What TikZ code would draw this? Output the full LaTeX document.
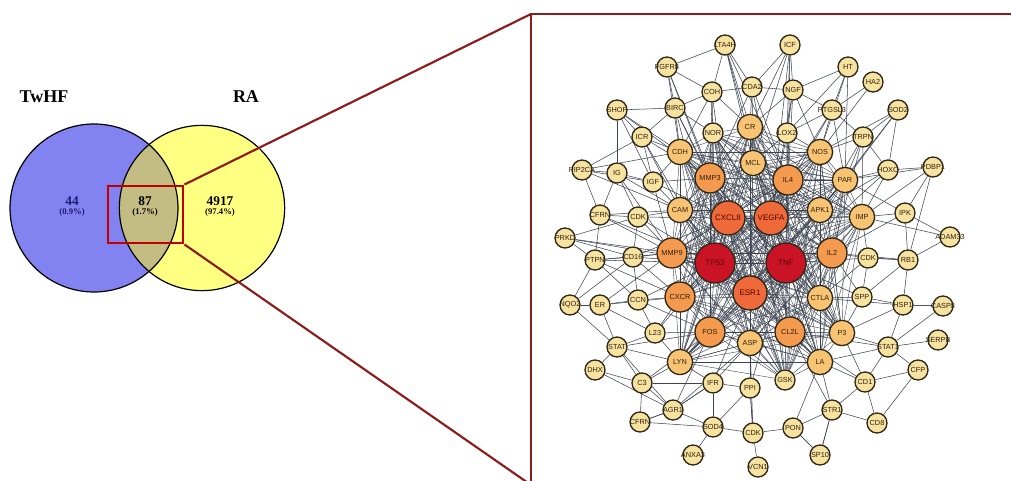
\documentclass[tikz,border=0pt]{standalone}
\usepackage{fontspec}
\setmainfont{Liberation Serif}
\newfontfamily\labfont{Liberation Sans}
\pgfdeclarelayer{bglayer}
\pgfdeclarelayer{edgelayer}
\pgfsetlayers{bglayer,edgelayer,main}
\definecolor{setblue}{HTML}{8282F0}
\definecolor{setyellow}{HTML}{FFFF82}
\definecolor{lenscol}{HTML}{C3BD83}
\definecolor{navy}{HTML}{1C1C70}
\definecolor{boxred}{HTML}{C00000}
\definecolor{linkred}{HTML}{8E1A1A}
\definecolor{csmall}{HTML}{F8E2A0}
\definecolor{cmed}{HTML}{F8C474}
\definecolor{corange}{HTML}{F49A4E}
\definecolor{cored}{HTML}{EE6A3A}
\definecolor{cred}{HTML}{CA1426}
\definecolor{nodeborder}{HTML}{2E2818}
\definecolor{edgecol}{HTML}{3C4350}
\definecolor{labcol}{HTML}{2E2210}
\tikzset{
  gnode/.style={circle, draw=nodeborder, line width=1pt, inner sep=0pt},
  sm/.style={gnode, fill=csmall, minimum size=15pt},
  md/.style={gnode, fill=cmed, minimum size=19pt},
  og/.style={gnode, fill=corange, minimum size=22.5pt},
  orr/.style={gnode, fill=cored, minimum size=25.5pt},
  rd/.style={gnode, fill=cred, minimum size=30pt},
  labstyle/.style={font=\labfont\fontsize{5.5}{5.5}\selectfont, text=labcol, inner sep=0pt},
  biglab/.style={font=\labfont\fontsize{6}{6}\selectfont, inner sep=0pt},
  edge/.style={draw=edgecol, line width=0.4pt},
  vennnum/.style={font=\bfseries\fontsize{10}{10}\selectfont},
  vennpct/.style={font=\bfseries\fontsize{6.5}{7}\selectfont},
}
\newcommand\gn[5]{\node[#1, label={[labstyle]center:#5}] (#2) at (#3,#4) {};}
\begin{document}
\begin{tikzpicture}[x=0.75pt,y=-0.75pt]
\useasboundingbox (0,0) rectangle (1011,481);
\clip (0,0) rectangle (1011,481);
\begin{pgfonlayer}{bglayer}
\fill[white] (0,0) rectangle (1011,481);
\end{pgfonlayer}

% ---------- Venn diagram ----------
\fill[setblue] (94,208) circle[radius=63pt];
\fill[setyellow] (202,208) circle[radius=62pt];
\begin{scope}
  \clip (94,208) circle[radius=63pt];
  \fill[lenscol] (202,208) circle[radius=62pt];
\end{scope}
\draw[black, line width=0.9pt] (94,208) circle[radius=63pt];
\draw[black, line width=0.9pt] (202,208) circle[radius=62pt];

\node[font=\bfseries\fontsize{13.5}{14}\selectfont] (twhf) at (44,97) {TwHF};
\node[font=\bfseries\fontsize{13.5}{14}\selectfont] (ra) at (246,97) {RA};
\node[vennnum, text=navy] (n44) at (72,201) {44};
\node[vennpct, text=navy] (p44) at (72,212) {(0.9\%)};
\node[vennnum] (n87) at (145,201) {87};
\node[vennpct] (p87) at (145,212) {(1.7\%)};
\node[vennnum] (n4917) at (220,201) {4917};
\node[vennpct] (p4917) at (220,212) {(97.4\%)};

% zoom box and links
\node[draw=boxred, line width=2.2pt, minimum width=56.25pt, minimum height=42.75pt, inner sep=0pt] (zoombox) at (145.5,214.5) {};
\coordinate (bigtl) at (531,14);
\coordinate (bigbl) at (531,485);
\coordinate (bigtr) at (1015,14);
\draw[linkred, line width=1.6pt] (zoombox.north east) -- (bigtl);
\draw[linkred, line width=1.6pt] (zoombox.south east) -- (bigbl);
\draw[linkred, line width=2pt] (bigbl) -- (bigtl) -- (bigtr);

% ---------- network nodes ----------
\gn{sm}{lta}{725}{45}{LTA4H}
\gn{sm}{icf}{790}{45}{ICF}
\gn{sm}{fgf}{667}{67}{FGFR8}
\gn{sm}{ht}{848}{67}{HT}
\gn{sm}{ha2}{873}{82}{HA2}
\gn{sm}{coh}{712}{92}{COH}
\gn{sm}{cda}{752}{87}{CDA2}
\gn{sm}{ngf}{793}{90}{NGF}
\gn{sm}{shp}{617}{110}{SHOP}
\gn{sm}{bir}{675}{108}{BIRC}
\gn{sm}{ptg}{832}{110}{PTGSL3}
\gn{sm}{sod}{898}{110}{SOD2}
\gn{sm}{icr}{642}{137}{ICR}
\gn{sm}{nor}{713}{133}{NOR}
\gn{sm}{lox}{787}{133}{LOX2}
\gn{sm}{trp}{863}{137}{TRPN}
\gn{sm}{hox}{888}{170}{HOXO}
\gn{sm}{pdb}{933}{167}{PDBP1}
\gn{sm}{pip}{582}{170}{PIP2CA}
\gn{sm}{ig}{617}{173}{IG}
\gn{sm}{igf}{653}{182}{IGF}
\gn{sm}{cfr}{600}{215}{CFRN}
\gn{sm}{cdka}{638}{217}{CDK}
\gn{sm}{ipk}{905}{213}{IPK}
\gn{sm}{adm}{950}{237}{ADAM33}
\gn{sm}{prk}{565}{238}{PRKD}
\gn{sm}{ptp}{595}{260}{PTPN}
\gn{sm}{cdsx}{633}{257}{CD16}
\gn{sm}{cdkb}{868}{258}{CDK}
\gn{sm}{rb}{908}{260}{RB1}
\gn{sm}{nqo}{570}{305}{NQO2}
\gn{sm}{er}{600}{305}{ER}
\gn{sm}{ccn}{638}{300}{CCN}
\gn{sm}{spp}{862}{297}{SPP}
\gn{sm}{hsp}{903}{305}{HSP1}
\gn{sm}{cspe}{943}{306}{CASP8}
\gn{sm}{ilt}{655}{333}{L23}
\gn{sm}{stat}{617}{347}{STAT}
\gn{sm}{dhx}{595}{370}{DHX}
\gn{sm}{sto}{888}{347}{STAT1}
\gn{sm}{ser}{938}{340}{SERPB}
\gn{sm}{cfp}{918}{370}{CFP}
\gn{sm}{cthree}{642}{383}{C3}
\gn{sm}{ifr}{713}{383}{IFR}
\gn{sm}{ppi}{750}{388}{PPI}
\gn{sm}{cdo}{865}{382}{CD1}
\gn{sm}{agr}{673}{410}{AGR1}
\gn{sm}{cfrb}{640}{422}{CFRN}
\gn{sm}{sodf}{713}{427}{SOD4}
\gn{sm}{cdkc}{753}{433}{CDK}
\gn{sm}{pon}{793}{428}{PON}
\gn{sm}{str}{832}{410}{STR1}
\gn{sm}{cde}{877}{423}{CD8}
\gn{sm}{anx}{693}{455}{ANXA3}
\gn{sm}{vcn}{758}{467}{VCN1}
\gn{sm}{spt}{820}{455}{SP10}
\gn{sm}{gsk}{785}{380}{GSK}

\gn{md}{cr}{750}{127}{CR}
\gn{md}{cdh}{680}{152}{CDH}
\gn{md}{nos}{820}{152}{NOS}
\gn{md}{mcl}{753}{163}{MCL}
\gn{md}{par}{845}{180}{PAR}
\gn{md}{cam}{680}{210}{CAM}
\gn{md}{apk}{820}{210}{APK1}
\gn{md}{imp}{862}{217}{IMP}
\gn{md}{ctla}{820}{298}{CTLA}
\gn{md}{lyn}{680}{362}{LYN}
\gn{md}{casp}{750}{343}{ASP}
\gn{md}{pthree}{842}{333}{P3}
\gn{md}{ela}{820}{362}{LA}

\gn{og}{mmpt}{710}{178}{MMP3}
\gn{og}{ilf}{788}{180}{IL4}
\gn{og}{mmpn}{672}{253}{MMP9}
\gn{og}{ilb}{832}{253}{IL2}
\gn{og}{cxcr}{680}{297}{CXCR}
\gn{og}{fos}{710}{332}{FOS}
\gn{og}{ccl}{790}{332}{CL2L}

\node[orr, label={[biglab, text=red!35!black]center:CXCL8}] (cxcl) at (728,218) {};
\node[orr, label={[biglab, text=red!35!black]center:VEGFA}] (vegf) at (771,218) {};
\node[orr, label={[biglab, text=red!35!black]center:ESR1}] (esr) at (750,293) {};
\node[rd, label={[biglab, text=red!35!black]center:TP53}] (tp) at (715,263) {};
\node[rd, label={[biglab, text=red!35!black]center:TNF}] (tnf) at (786,263) {};

% ---------- network edges ----------
\begin{pgfonlayer}{edgelayer}
\def\corelist{tp,tnf,cxcl,vegf,esr,mmpn,ilb,ilf,mmpt,cxcr,fos,ccl,cam,apk,ctla,casp,mcl,lyn,pthree,ela,par,cdh,cr,nos,imp,gsk,nor}
\foreach \a [count=\i] in \corelist {
  \foreach \b [count=\j] in \corelist {
    \ifnum\j>\i \draw[edge, line width=0.3pt] (\a) -- (\b); \fi
  }
}
\foreach \s/\ts in {lta/{cda,coh,mcl,ilf,cr,vegf,fgf},
  icf/{cda,ngf,lox,ilf,mcl,vegf,cr},
  fgf/{coh,bir,cdh,mmpt,cxcl},
  ht/{ptg,ngf,nos,par,lox},
  ha2/{ptg,nos},
  coh/{cda,bir,mmpt,cxcl,cr,cdh,tp},
  cda/{cr,mcl,mmpt,ilf,ngf,tnf},
  ngf/{lox,ptg,ilf,vegf,nos,cr},
  shp/{bir,icr,igf,cdh,mmpt,ig},
  bir/{icr,cdh,nor,mmpt,cxcl,tp},
  ptg/{lox,nos,par,ilf,vegf,trp},
  sod/{trp,par,hox,apk,nos},
  icr/{cdh,igf,mmpt,cam,tp},
  lox/{nos,ilf,vegf,tnf,mcl},
  trp/{nos,par,apk,hox,imp,ilb},
  hox/{par,imp,apk,tnf},
  pdb/{hox,imp,rb,par,ipk},
  pip/{ig,icr,cfr,igf,cdh,cam},
  ig/{igf,cdka,cfr,cam,mmpn},
  igf/{cam,cdh,mmpt,mmpn,cxcl},
  cfr/{cdka,ptp,cam,mmpn,tp},
  cdka/{cam,mmpn,cdsx,cxcl,tp},
  ipk/{rb,par,adm,imp,ilb},
  adm/{rb,imp},
  prk/{ptp,cdsx,cdka,mmpn,tp},
  ptp/{cdsx,mmpn,ccn,cxcr,tp},
  cdsx/{mmpn,ccn,cxcr,tp,cxcl},
  cdkb/{ilb,rb,spp,ctla,tnf,imp},
  rb/{spp,hsp,ilb,cdkb},
  nqo/{er,stat,cdsx,ptp},
  er/{ccn,stat,ilt,cxcr,mmpn},
  ccn/{cxcr,ilt,fos,tp},
  spp/{hsp,pthree,ctla,ilb,tnf},
  hsp/{cspe,sto,pthree,ctla},
  cspe/{sto,hsp},
  ilt/{stat,fos,lyn,cxcr,tp},
  stat/{dhx,cthree,lyn,fos,agr},
  dhx/{cthree,agr},
  sto/{ser,cfp,cdo,pthree,ela,ccl},
  cfp/{cdo,cde},
  cthree/{agr,lyn,ifr,cfrb,fos},
  ifr/{ppi,lyn,casp,agr,sodf,esr},
  ppi/{casp,cdkc,esr,tnf},
  cdo/{ela,str,cde,pthree,ccl},
  agr/{cfrb,sodf,ifr,casp,fos},
  cfrb/{sodf,agr},
  sodf/{anx,cdkc,ppi},
  cdkc/{vcn,pon,ppi,casp},
  pon/{str,spt,ela},
  str/{cde,spt,ela,ccl},
  spt/{pon,str}}{
  \foreach \t in \ts {\draw[edge] (\s) -- (\t);}
}
\end{pgfonlayer}
\end{tikzpicture}
\end{document}
